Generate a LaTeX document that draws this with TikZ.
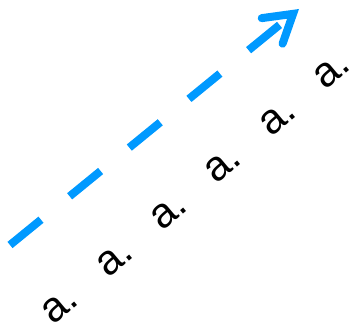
\documentclass[tikz,border=0pt]{standalone}
\usepackage{xcolor}
\usepackage{tikz}
\usepackage{fontspec}
\setmainfont{Liberation Sans}
\usetikzlibrary{arrows.meta,positioning,calc}
\definecolor{arrowblue}{RGB}{0,153,255}
\definecolor{textblack}{RGB}{0,0,0}

\begin{document}
\begin{tikzpicture}[x=1pt,y=1pt,
  lbl/.style={text=textblack, rotate=40, inner sep=0pt,
    font=\fontsize{42}{48}\selectfont},
  flow/.style={draw=arrowblue, line width=8pt, dash pattern=on 40pt off 37pt,
    -{Straight Barb[length=27pt,width=33pt,line cap=round]}}]
  \useasboundingbox (0,0) rectangle (352,-328);
  \coordinate (start) at (10,-245);
  \coordinate (tip) at (299,-9);
  \draw[flow] (start) -- (tip);
  \foreach \i in {0,...,5}{
    \node[lbl] (a\i) at ({60+54.4*\i},{-306+47*\i}) {a.};
  }
\end{tikzpicture}
\end{document}
